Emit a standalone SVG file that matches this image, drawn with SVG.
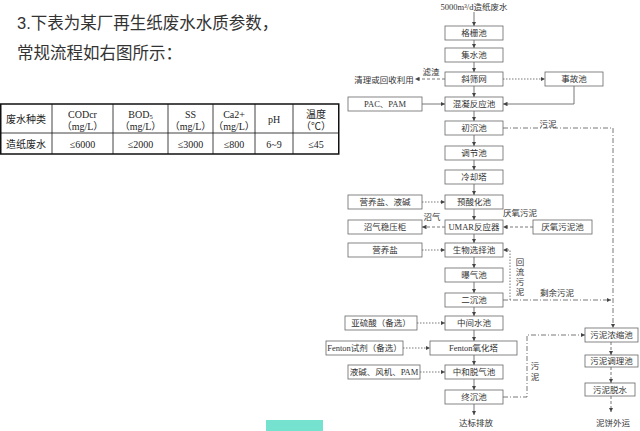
<svg xmlns="http://www.w3.org/2000/svg" width="640" height="431" viewBox="0 0 640 431">
<style>
.box{fill:#fff;stroke:#666;stroke-width:0.8}
.t{font-family:"Liberation Serif","Noto Sans CJK SC",serif;font-size:8.5px;fill:#333;text-anchor:middle;dominant-baseline:central}
.tb{font-family:"Liberation Serif","Noto Sans CJK SC",serif;font-size:10px;fill:#222;text-anchor:middle;dominant-baseline:central}
.h{font-family:"Liberation Sans","Noto Sans CJK SC",sans-serif;font-size:16.5px;fill:#333}
.ln{stroke:#555;stroke-width:0.8;fill:none}
.dd{stroke-dasharray:5 2 1 2}
.ds{stroke-dasharray:3 2}
.dt{stroke-dasharray:1.5 1.5}
.tl{stroke:#111;stroke-width:0.8}
</style>
<defs>
<marker id="a" viewBox="0 0 6 6" refX="6" refY="3" markerWidth="4.5" markerHeight="4.5" markerUnits="userSpaceOnUse" orient="auto"><path d="M0,0L6,3L0,6z" fill="#444"/></marker>
</defs>
<rect width="640" height="431" fill="#fff"/>

<g id="heading">
<text class="h" x="17" y="29">3.下表为某厂再生纸废水水质参数，</text>
<text class="h" x="17" y="59">常规流程如右图所示：</text>
</g>

<g id="table">
<rect x="0.75" y="104" width="338" height="50" fill="none" stroke="#111" stroke-width="1.5"/>
<line class="tl" x1="0" y1="133" x2="339" y2="133"/>
<line class="tl" x1="52" y1="104" x2="52" y2="154"/>
<line class="tl" x1="113" y1="104" x2="113" y2="154"/>
<line class="tl" x1="168" y1="104" x2="168" y2="154"/>
<line class="tl" x1="213" y1="104" x2="213" y2="154"/>
<line class="tl" x1="255" y1="104" x2="255" y2="154"/>
<line class="tl" x1="293" y1="104" x2="293" y2="154"/>
<text class="tb" x="26" y="119">废水种类</text>
<text class="tb" x="82.5" y="114">CODcr</text>
<text class="tb" x="82.5" y="126">（mg/L）</text>
<text class="tb" x="140.5" y="114">BOD<tspan font-size="6.5" dy="2">5</tspan></text>
<text class="tb" x="140.5" y="126">（mg/L）</text>
<text class="tb" x="190.5" y="114">SS</text>
<text class="tb" x="190.5" y="126">（mg/L）</text>
<text class="tb" x="234" y="114">Ca2+</text>
<text class="tb" x="234" y="126">（mg/L）</text>
<text class="tb" x="274" y="119">pH</text>
<text class="tb" x="316" y="114">温度</text>
<text class="tb" x="316" y="126">（℃）</text>
<text class="tb" x="26" y="144">造纸废水</text>
<text class="tb" x="82.5" y="144">≤6000</text>
<text class="tb" x="140.5" y="144">≤2000</text>
<text class="tb" x="190.5" y="144">≤3000</text>
<text class="tb" x="234" y="144">≤800</text>
<text class="tb" x="274" y="144">6~9</text>
<text class="tb" x="316" y="144">≤45</text>
</g>

<g id="connectors">
<path class="ln" marker-end="url(#a)" d="M474,12V26"/>
<path class="ln" marker-end="url(#a)" d="M474,40V48"/>
<path class="ln" marker-end="url(#a)" d="M474,62V72"/>
<path class="ln" marker-end="url(#a)" d="M474,86V97"/>
<path class="ln" marker-end="url(#a)" d="M474,111V121"/>
<path class="ln" marker-end="url(#a)" d="M474,135V146"/>
<path class="ln" marker-end="url(#a)" d="M474,160V170"/>
<path class="ln" marker-end="url(#a)" d="M474,184V195"/>
<path class="ln" marker-end="url(#a)" d="M474,209V220"/>
<path class="ln" marker-end="url(#a)" d="M474,234V243"/>
<path class="ln" marker-end="url(#a)" d="M474,257V268"/>
<path class="ln" marker-end="url(#a)" d="M474,282V293"/>
<path class="ln" marker-end="url(#a)" d="M474,307V316"/>
<path class="ln" marker-end="url(#a)" d="M474,330V341"/>
<path class="ln" marker-end="url(#a)" d="M474,355V365"/>
<path class="ln" marker-end="url(#a)" d="M474,379V390"/>
<path class="ln" marker-end="url(#a)" d="M474,404V415"/>
<path class="ln ds" marker-end="url(#a)" d="M445,79H415"/>
<path class="ln dt" marker-end="url(#a)" d="M503,79H545"/>
<path class="ln" marker-end="url(#a)" d="M574,86V104H503"/>
<path class="ln" marker-end="url(#a)" d="M422,104H445"/>
<path class="ln dd" marker-end="url(#a)" d="M503,128H613V328"/>
<path class="ln dt" marker-end="url(#a)" d="M422,202H445"/>
<path class="ln ds" marker-end="url(#a)" d="M445,227H422"/>
<path class="ln ds" marker-end="url(#a)" d="M533,227H503"/>
<path class="ln dt" marker-end="url(#a)" d="M422,250H445"/>
<path class="ln dt" marker-end="url(#a)" d="M510,300V250H503"/>
<path class="ln dd" marker-end="url(#a)" d="M503,300H611"/>
<path class="ln dt" marker-end="url(#a)" d="M417,323H445"/>
<path class="ln dt" marker-end="url(#a)" d="M403,348H430"/>
<path class="ln dt" marker-end="url(#a)" d="M420,372H445"/>
<path class="ln dd" marker-end="url(#a)" d="M503,397H527V335H585"/>
<path class="ln ds" marker-end="url(#a)" d="M611,342V355"/>
<path class="ln ds" marker-end="url(#a)" d="M611,367V383"/>
<path class="ln ds" marker-end="url(#a)" d="M611,396V412"/>
<text class="t" x="431" y="72">滤渣</text>
<text class="t" x="548" y="124">污泥</text>
<text class="t" x="432" y="217">沼气</text>
<text class="t" x="520" y="213">厌氧污泥</text>
<text class="t" x="520" y="262">回</text>
<text class="t" x="520" y="272">流</text>
<text class="t" x="520" y="282">污</text>
<text class="t" x="520" y="292">泥</text>
<text class="t" x="557" y="293">剩余污泥</text>
<text class="t" x="535" y="366">污</text>
<text class="t" x="535" y="377">泥</text>
</g>

<g id="n-title"><text class="t" x="474" y="7">5000m³/d造纸废水</text></g>
<g id="n-geshan"><rect class="box" x="445" y="26" width="58" height="14"/><text class="t" x="474" y="33">格栅池</text></g>
<g id="n-jishui"><rect class="box" x="445" y="48" width="58" height="14"/><text class="t" x="474" y="55">集水池</text></g>
<g id="n-xieshai"><rect class="box" x="445" y="72" width="58" height="14"/><text class="t" x="474" y="79">斜筛网</text></g>
<g id="n-qingli"><text class="t" x="384" y="80">清理或回收利用</text></g>
<g id="n-shigu"><rect class="box" x="545" y="72" width="58" height="14"/><text class="t" x="574" y="79">事故池</text></g>
<g id="n-hunning"><rect class="box" x="445" y="97" width="58" height="14"/><text class="t" x="474" y="104">混凝反应池</text></g>
<g id="n-pac"><rect class="box" x="348" y="97" width="74" height="14"/><text class="t" x="385" y="104">PAC、PAM</text></g>
<g id="n-chuchen"><rect class="box" x="445" y="121" width="58" height="14"/><text class="t" x="474" y="128">初沉池</text></g>
<g id="n-tiaojie"><rect class="box" x="445" y="146" width="58" height="14"/><text class="t" x="474" y="153">调节池</text></g>
<g id="n-lengque"><rect class="box" x="445" y="170" width="58" height="14"/><text class="t" x="474" y="177">冷却塔</text></g>
<g id="n-yusuan"><rect class="box" x="445" y="195" width="58" height="14"/><text class="t" x="474" y="202">预酸化池</text></g>
<g id="n-yingyang1"><rect class="box" x="348" y="195" width="74" height="14"/><text class="t" x="385" y="202">营养盐、液碱</text></g>
<g id="n-umar"><rect class="box" x="445" y="220" width="58" height="14"/><text class="t" x="474" y="227">UMAR反应器</text></g>
<g id="n-zhaoqi"><rect class="box" x="348" y="220" width="74" height="14"/><text class="t" x="385" y="227">沼气稳压柜</text></g>
<g id="n-yanyang"><rect class="box" x="533" y="220" width="59" height="14"/><text class="t" x="562.5" y="227">厌氧污泥池</text></g>
<g id="n-shengwu"><rect class="box" x="445" y="243" width="58" height="14"/><text class="t" x="474" y="250">生物选择池</text></g>
<g id="n-yingyang2"><rect class="box" x="348" y="243" width="74" height="14"/><text class="t" x="385" y="250">营养盐</text></g>
<g id="n-puqi"><rect class="box" x="445" y="268" width="58" height="14"/><text class="t" x="474" y="275">曝气池</text></g>
<g id="n-erchen"><rect class="box" x="445" y="293" width="58" height="14"/><text class="t" x="474" y="300">二沉池</text></g>
<g id="n-zhongjian"><rect class="box" x="445" y="316" width="58" height="14"/><text class="t" x="474" y="323">中间水池</text></g>
<g id="n-yaliu"><rect class="box" x="345" y="316" width="72" height="14"/><text class="t" x="381" y="323">亚硫酸（备选）</text></g>
<g id="n-fenton"><rect class="box" x="430" y="341" width="87" height="14"/><text class="t" x="473.5" y="348">Fenton氧化塔</text></g>
<g id="n-fentonsj"><rect class="box" x="326" y="341" width="77" height="14"/><text class="t" x="364.5" y="348">Fenton试剂（备选）</text></g>
<g id="n-zhonghe"><rect class="box" x="445" y="365" width="58" height="14"/><text class="t" x="474" y="372">中和脱气池</text></g>
<g id="n-yejian"><rect class="box" x="348" y="365" width="72" height="14"/><text class="t" x="384" y="372">液碱、风机、PAM</text></g>
<g id="n-zhongchen"><rect class="box" x="445" y="390" width="58" height="14"/><text class="t" x="474" y="397">终沉池</text></g>
<g id="n-dabiao"><text class="t" x="476" y="423">达标排放</text></g>
<g id="n-nongsuo"><rect class="box" x="585" y="328" width="53" height="14"/><text class="t" x="611.5" y="335">污泥浓缩池</text></g>
<g id="n-tiaoli"><rect class="box" x="585" y="355" width="53" height="12"/><text class="t" x="611.5" y="361">污泥调理池</text></g>
<g id="n-tuoshui"><rect class="box" x="585" y="383" width="50" height="13"/><text class="t" x="610" y="389.5">污泥脱水</text></g>
<g id="n-nibing"><text class="t" x="613" y="423">泥饼外运</text></g>

<rect x="266" y="420" width="57" height="11" fill="#74e2cf"/>
</svg>
